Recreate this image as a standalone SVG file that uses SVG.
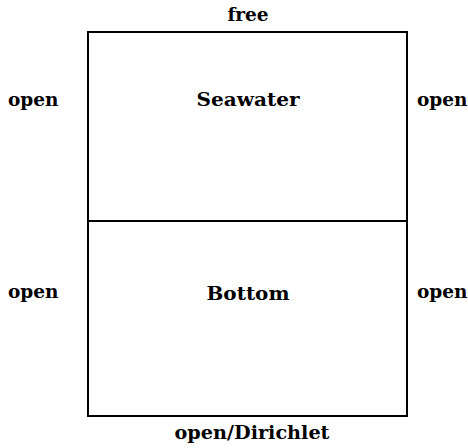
<svg xmlns="http://www.w3.org/2000/svg" width="468" height="448" viewBox="0 0 468 448">
  <style>
    .lbl { font-family: "DejaVu Serif", "Liberation Serif", serif; font-weight: bold; font-size: 18.5px; fill: #000; }
    .mid { text-anchor: middle; }
    .edge { fill: none; stroke: #000; stroke-width: 2; }
  </style>
  <rect width="468" height="448" fill="#fff"/>

  <!-- domain outline and the interface between layers -->
  <g id="connectors">
    <rect class="edge" x="88" y="32" width="319" height="384"/>
    <line class="edge" x1="88" y1="221" x2="407" y2="221" stroke-width="2.4"/>
  </g>

  <!-- upper layer -->
  <g id="seawater">
    <text class="lbl mid" x="248" y="106" textLength="103" lengthAdjust="spacingAndGlyphs">Seawater</text>
  </g>

  <!-- lower layer -->
  <g id="bottom">
    <text class="lbl mid" x="248" y="300" textLength="83" lengthAdjust="spacingAndGlyphs">Bottom</text>
  </g>

  <!-- boundary conditions -->
  <g id="bc-top">
    <text class="lbl mid" x="248" y="21">free</text>
  </g>
  <g id="bc-left-upper">
    <text class="lbl" x="8" y="106">open</text>
  </g>
  <g id="bc-right-upper">
    <text class="lbl" x="417" y="106">open</text>
  </g>
  <g id="bc-left-lower">
    <text class="lbl" x="8" y="298">open</text>
  </g>
  <g id="bc-right-lower">
    <text class="lbl" x="417" y="298">open</text>
  </g>
  <g id="bc-bottom">
    <text class="lbl mid" x="252" y="439" textLength="155" lengthAdjust="spacingAndGlyphs">open/Dirichlet</text>
  </g>
</svg>
